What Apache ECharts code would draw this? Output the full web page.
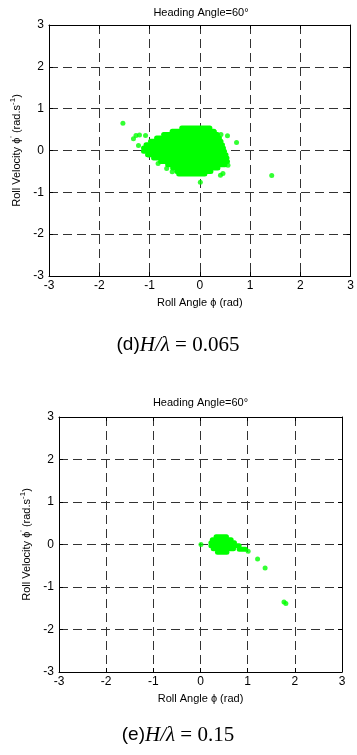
<!DOCTYPE html>
<html lang="en" style="height: 100%">
<head>
  <meta charset="UTF-8" />
  <title>Roll phase plane</title>
  <script src="https://cdn.jsdelivr.net/npm/echarts@6/dist/echarts.min.js"></script>
</head>
<body style="height: 100%; margin: 0; background: #fff">
  <div id="main" style="width: 357px; height: 755px"></div>
  <script type="text/javascript">
    // axis ticks, both panels
    var ticks = [-3, -2, -1, 0, 1, 2, 3];
    var panelTitle = 'Heading Angle=60°';
    var captions = [['(d)', '0.065'], ['(e)', '0.15']];

    // (d) dense cloud, read as rows: [roll velocity, roll angle from, roll angle to]
    var cloudD = [
      [0.54, -0.36, 0.20],
      [0.46, -0.55, 0.28],
      [0.38, -0.72, 0.35],
      [0.30, -0.86, 0.39],
      [0.22, -0.98, 0.42],
      [0.14, -1.07, 0.45],
      [0.06, -1.12, 0.47],
      [-0.02, -1.12, 0.49],
      [-0.10, -1.04, 0.52],
      [-0.18, -0.92, 0.54],
      [-0.26, -0.78, 0.55],
      [-0.34, -0.64, 0.50],
      [-0.42, -0.54, 0.36],
      [-0.50, -0.46, 0.22],
      [-0.56, -0.42, 0.10]
    ];
    // (d) loose points
    var dotsD = [
      [-1.53, 0.65], [-1.32, 0.28], [-1.27, 0.36], [-1.20, 0.37], [-1.08, 0.36],
      [-1.22, 0.12], [-1.02, -0.11], [-0.83, -0.31], [-0.66, -0.43], [-0.55, -0.51],
      [0.01, -0.76], [0.41, -0.59], [0.46, -0.55], [0.56, -0.35], [0.55, 0.35],
      [0.42, 0.38], [0.29, 0.45], [0.73, 0.19], [1.43, -0.60]
    ];

    // (e) small cloud rows
    var cloudE = [
      [0.18, 0.33, 0.55],
      [0.11, 0.25, 0.65],
      [0.04, 0.22, 0.72],
      [-0.03, 0.22, 0.82],
      [-0.10, 0.27, 0.70],
      [-0.11, 0.82, 0.95],
      [-0.18, 0.36, 0.56]
    ];
    // (e) loose points
    var dotsE = [
      [0.01, 0.0], [1.01, -0.16], [1.21, -0.34], [1.37, -0.55], [1.77, -1.35], [1.81, -1.39]
    ];

    var myChart = echarts.init(document.getElementById('main'));

    var grids = [
      { left: 49, top: 25, width: 304, height: 251 },
      { left: 59, top: 417, width: 283, height: 255 }
    ];

    var dash = { color: '#333', width: 1, type: [9, 5] };
    var font = 'Liberation Sans, Arial, sans-serif';

    function mainX(i) {
      return {
        gridIndex: i, type: 'value', min: ticks[0], max: ticks[ticks.length - 1], interval: 1,
        axisLine: { show: true, onZero: false, lineStyle: { color: '#000', width: 1 } },
        axisTick: { inside: true, length: 4, lineStyle: { color: '#000' } },
        axisLabel: { color: '#000', fontSize: 12, fontFamily: font, margin: 4 },
        splitLine: { show: true, lineStyle: dash },
        name: 'Roll Angle ϕ (rad)', nameLocation: 'middle', nameGap: 21,
        nameTextStyle: { color: '#000', fontSize: 11, fontFamily: font }
      };
    }
    function mainY(i) {
      return {
        gridIndex: i, type: 'value', min: ticks[0], max: ticks[ticks.length - 1], interval: 1,
        axisLine: { show: true, onZero: false, lineStyle: { color: '#000', width: 1 } },
        axisTick: { inside: true, length: 4, lineStyle: { color: '#000' } },
        axisLabel: { color: '#000', fontSize: 12, fontFamily: font, margin: 5 },
        splitLine: { show: true, lineStyle: dash },
        name: '{t|Roll Velocity ϕ}{s|\'}{t| (rad.s}{s|-1}{t|)}', nameLocation: 'middle', nameGap: 26,
        nameTextStyle: {
          color: '#000', fontFamily: font,
          rich: {
            t: { fontSize: 11, fontFamily: font, color: '#000', verticalAlign: 'bottom', lineHeight: 14 },
            s: { fontSize: 8, fontFamily: font, color: '#000', verticalAlign: 'top', lineHeight: 14 }
          }
        }
      };
    }
    function edge(i, pos) {
      return {
        gridIndex: i, type: 'value', position: pos, min: ticks[0], max: ticks[ticks.length - 1], interval: 1,
        axisLine: { show: true, onZero: false, lineStyle: { color: '#000', width: 1 } },
        axisTick: { inside: true, length: 4, lineStyle: { color: '#000' } },
        axisLabel: { show: false }, splitLine: { show: false }
      };
    }

    function rowItem(width) {
      return function (params, api) {
        var a = api.coord([api.value(1), api.value(0)]);
        var b = api.coord([api.value(2), api.value(0)]);
        return {
          type: 'line',
          shape: { x1: a[0], y1: a[1], x2: b[0], y2: b[1] },
          style: { stroke: '#00ff00', lineWidth: width, lineCap: 'round' }
        };
      };
    }

    var graphics = [];
    [13, 403].forEach(function (y, i) {
      var g = grids[i];
      graphics.push({
        type: 'text', x: g.left + g.width / 2, y: y,
        style: { text: panelTitle, font: '11px ' + font, fill: '#000', align: 'center', verticalAlign: 'middle' }
      });
    });
    [345, 735].forEach(function (y, i) {
      graphics.push({
        type: 'text', x: 178, y: y,
        style: {
          text: '{a|' + captions[i][0] + '}{m|H/λ}{n| = ' + captions[i][1] + '}',
          align: 'center', verticalAlign: 'middle',
          rich: {
            a: { font: '19px ' + font, fill: '#000' },
            m: { font: 'italic 21px "Liberation Serif", serif', fill: '#000' },
            n: { font: '21px "Liberation Serif", serif', fill: '#000' }
          }
        }
      });
    });

    var option = {
      animation: false,
      grid: grids,
      xAxis: [mainX(0), edge(0, 'top'), mainX(1), edge(1, 'top')],
      yAxis: [mainY(0), edge(0, 'right'), mainY(1), edge(1, 'right')],
      graphic: graphics,
      series: [
        { type: 'custom', xAxisIndex: 0, yAxisIndex: 0, renderItem: rowItem(5), data: cloudD },
        { type: 'scatter', xAxisIndex: 0, yAxisIndex: 0, symbolSize: 5, itemStyle: { color: '#00ff00' }, data: dotsD },
        { type: 'custom', xAxisIndex: 2, yAxisIndex: 2, renderItem: rowItem(5), data: cloudE },
        { type: 'scatter', xAxisIndex: 2, yAxisIndex: 2, symbolSize: 5, itemStyle: { color: '#00ff00' }, data: dotsE }
      ]
    };

    if (option && typeof option === 'object') {
      myChart.setOption(option);
    }
    window.addEventListener('resize', myChart.resize);
  </script>
</body>
</html>
